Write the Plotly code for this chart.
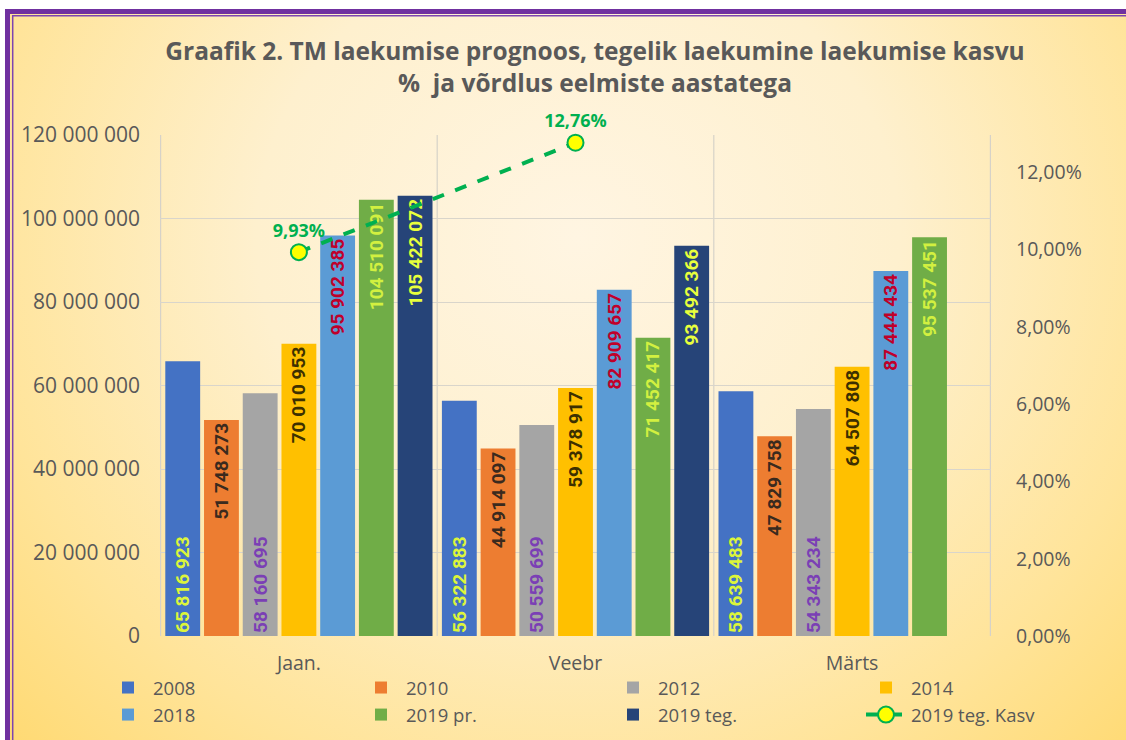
import base64
import plotly.graph_objects as go

# ---------------- data ----------------
categories = ["Jaan.", "Veebr", "Märts"]
series_names = ["2008", "2010", "2012", "2014", "2018", "2019 pr.", "2019 teg."]
v2008 = [65816923, 56322883, 58639483]
v2010 = [51748273, 44914097, 47829758]
v2012 = [58160695, 50559699, 54343234]
v2014 = [70010953, 59378917, 64507808]
v2018 = [95902385, 82909657, 87444434]
v2019pr = [104510091, 71452417, 95537451]
v2019teg = [105422072, 93492366, None]
kasv_name = "2019 teg. Kasv"
kasv = [9.93, 12.76, None]

left_tickvals = [0, 20000000, 40000000, 60000000, 80000000, 100000000, 120000000]
right_tickvals = [0, 2, 4, 6, 8, 10, 12]

title_text = ("Graafik 2. TM laekumise prognoos, tegelik laekumine laekumise kasvu"
              "<br>%  ja võrdlus eelmiste aastatega")

# ---------------- style ----------------
W, H = 1126, 740
ML, MR, MT, MB = 160, 135, 135, 104
PW, PH = W - ML - MR, H - MT - MB


def px2x(px):
    return (px - ML) / PW


def py2y(py):
    return (H - MB - py) / PH


bar_colors = ["#4472C4", "#ED7D31", "#A5A5A5", "#FFC000", "#5B9BD5", "#70AD47", "#264478"]
label_colors = ["#DDF53A", "#3A2A1E", "#7B3FB5", "#3D3000", "#C0002A", "#D2F040", "#E8FF3C"]
label_anchor = ["start", "end", "start", "end", "end", "end", "end"]
legend_ids = ["legend", "legend2", "legend3", "legend4", "legend", "legend2", "legend3"]
all_values = [v2008, v2010, v2012, v2014, v2018, v2019pr, v2019teg]

FONT = "Open Sans"
GREY = "#595959"


def fmt(v):
    return "" if v is None else f"{v:,}".replace(",", " ")


fig = go.Figure()
for name, vals, col, lcol, anc, lg in zip(series_names, all_values, bar_colors,
                                          label_colors, label_anchor, legend_ids):
    fig.add_trace(go.Bar(
        x=categories, y=vals, name=name, marker=dict(color=col, line=dict(width=0)),
        text=[fmt(v) for v in vals], textposition="inside", insidetextanchor=anc,
        textangle=-90, constraintext="none",
        textfont=dict(family="Roboto", size=19, color=lcol, weight="bold"),
        legend=lg, hoverinfo="skip",
    ))

fig.add_trace(go.Scatter(
    x=categories, y=kasv, name=kasv_name, yaxis="y2", mode="lines+markers+text",
    line=dict(color="#00B050", width=4, dash="dash"),
    marker=dict(size=16, color="#FFFF00", line=dict(color="#00B050", width=2)),
    text=["" if v is None else f"{v:.2f}".replace(".", ",") + "%" for v in kasv],
    textposition="top center",
    textfont=dict(family=FONT, size=18, color="#00B050", weight="bold"),
    legend="legend4", hoverinfo="skip", cliponaxis=False,
))

# background gradient as an svg image
svg = ('<svg xmlns="http://www.w3.org/2000/svg" width="1112" height="724" '
       'viewBox="0 0 1112 724" preserveAspectRatio="none"><defs>'
       '<radialGradient id="g" cx="0.5" cy="0.3" r="0.7" gradientTransform="translate(0.5 0.3) scale(1 1.4) translate(-0.5 -0.3)">'
       '<stop offset="0" stop-color="#FFF5E2"/><stop offset="0.4" stop-color="#FEF0CE"/>'
       '<stop offset="0.75" stop-color="#FFE49A"/><stop offset="1" stop-color="#FFD970"/>'
       '</radialGradient></defs><rect width="1112" height="724" fill="url(#g)"/></svg>')
src = "data:image/svg+xml;base64," + base64.b64encode(svg.encode()).decode()

shapes = []
# category separators / plot frame
for xv in [-0.5, 0.5, 1.5, 2.5]:
    shapes.append(dict(type="line", xref="x", yref="paper", x0=xv, x1=xv, y0=0, y1=1,
                       line=dict(color="#D6D2C8", width=1.2), layer="below"))
# purple double border
shapes.append(dict(type="rect", xref="paper", yref="paper",
                   x0=px2x(7.5), x1=px2x(1140), y0=py2y(11.5), y1=py2y(760),
                   line=dict(color="#7030A0", width=5)))
shapes.append(dict(type="rect", xref="paper", yref="paper",
                   x0=px2x(12.7), x1=px2x(1140), y0=py2y(15.7), y1=py2y(760),
                   line=dict(color="#7D44B0", width=1.5)))

legend_common = dict(orientation="v", yanchor="top", xanchor="left", bgcolor="rgba(0,0,0,0)",
                     font=dict(family=FONT, size=18.5, color=GREY), itemwidth=40,
                     tracegroupgap=0, y=py2y(669))

fig.update_layout(
    width=W, height=H, autosize=False,
    margin=dict(l=ML, r=MR, t=MT, b=MB, autoexpand=False),
    paper_bgcolor="white", plot_bgcolor="rgba(255,246,226,0.5)",
    font=dict(family=FONT, color=GREY),
    title=dict(text=title_text, x=595 / W, xref="container", xanchor="center",
               y=1 - 60 / H, yanchor="middle",
               font=dict(family=FONT, size=24.5, color=GREY, weight="bold")),
    barmode="group", bargap=0.02, bargroupgap=0.1,
    showlegend=True,
    legend=dict(**legend_common, x=px2x(103)),
    legend2=dict(**legend_common, x=px2x(356)),
    legend3=dict(**legend_common, x=px2x(608)),
    legend4=dict(**legend_common, x=px2x(861)),
    xaxis=dict(type="category", showgrid=False, zeroline=False, showline=False,
               ticks="", tickfont=dict(family=FONT, size=19.5, color=GREY),
               ticklabelstandoff=13),
    yaxis=dict(range=[0, 120000000], tickvals=left_tickvals,
               ticktext=[fmt(v) for v in left_tickvals],
               showgrid=True, gridcolor="#D9D5CB", gridwidth=1.2, zeroline=False,
               showline=False, ticks="", ticklabelstandoff=19,
               tickfont=dict(family=FONT, size=21, color=GREY)),
    yaxis2=dict(range=[0, 12.96], overlaying="y", side="right", tickvals=right_tickvals,
                ticktext=[f"{v:.2f}".replace(".", ",") + "%" for v in right_tickvals],
                showgrid=False, zeroline=False, showline=False, ticks="",
                ticklabelstandoff=24, tickfont=dict(family=FONT, size=19.5, color=GREY)),
    images=[dict(source=src, xref="paper", yref="paper", x=px2x(5), y=py2y(9),
                 sizex=(W + 20) / PW, sizey=(H + 20) / PH, sizing="stretch",
                 xanchor="left", yanchor="top", layer="below")],
    shapes=shapes,
    hovermode=False,
)

fig.write_html("out.html", config={"displayModeBar": False},
               post_script="document.body.style.margin='0';document.body.style.overflow='hidden';")
